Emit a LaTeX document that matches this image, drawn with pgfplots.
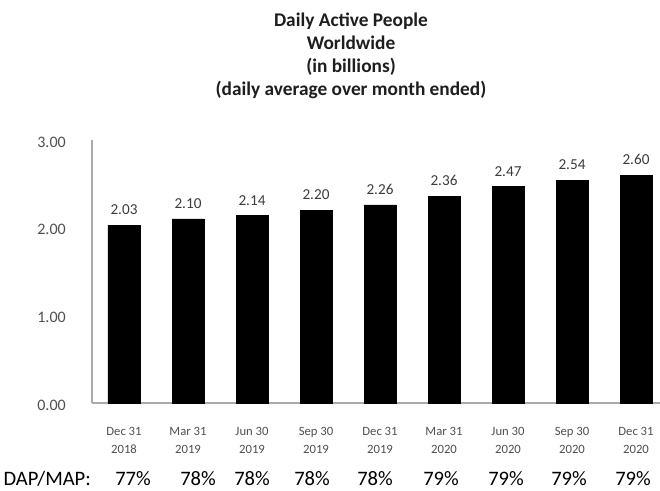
\documentclass[border=0pt]{standalone}
\usepackage{fontspec}
\setmainfont{Carlito}
\usepackage{pgfplots}
\pgfplotsset{compat=1.18}
\definecolor{axisgray}{RGB}{170,170,170}
\definecolor{labgray}{RGB}{80,80,80}
\definecolor{datgray}{RGB}{60,60,60}
\definecolor{titleblk}{RGB}{30,30,30}
\begin{document}
\begin{tikzpicture}
\useasboundingbox (0,0) rectangle (495pt,368.25pt);
\fill[white] (0,0) rectangle (495pt,368.25pt);
\begin{axis}[
  at={(69pt,66pt)}, anchor=south west,
  scale only axis, width=426pt, height=197.25pt,
  xmin=-0.5, xmax=8.375, ymin=0, ymax=3,
  clip=false,
  axis lines*=left,
  axis line style={draw=axisgray, line width=0.9pt},
  ybar, bar width=24pt,
  ytick={0,1,2,3},
  xtick={0,...,8},
  xticklabels={Dec 31\\2018, Mar 31\\2019, Jun 30\\2019, Sep 30\\2019, Dec 31\\2019, Mar 31\\2020, Jun 30\\2020, Sep 30\\2020, Dec 31\\2020},
  major tick length=0pt,
  /pgf/number format/.cd, fixed, fixed zerofill, precision=2, assume math mode=true,
  /pgfplots/.cd,
  xticklabel style={align=center, anchor=north, inner sep=0pt, yshift=-17.9pt, text=labgray, font=\fontsize{9.5}{13.5}\selectfont},
  yticklabel style={anchor=east, inner sep=0pt, xshift=-19.5pt, yshift=-1.5pt, text=labgray, font=\fontsize{12}{14}\selectfont},
  nodes near coords,
  every node near coord/.append style={anchor=south, inner sep=0pt, yshift=7.5pt, text=datgray, font=\fontsize{11.4}{13}\selectfont},
]
\addplot[fill=black, draw=black] coordinates {
  (0,2.03) (1,2.10) (2,2.14) (3,2.20) (4,2.26) (5,2.36) (6,2.47) (7,2.54) (8,2.60)
};
\end{axis}
\begin{scope}[font=\bfseries\fontsize{14.5}{17}\selectfont, text=titleblk]
\node[anchor=base] at (263.25pt,348pt) {Daily Active People};
\node[anchor=base] at (263.25pt,330.75pt) {Worldwide};
\node[anchor=base] at (263.25pt,313.5pt) {(in billions)};
\node[anchor=base] at (263.25pt,296.25pt) {(daily average over month ended)};
\end{scope}
\begin{scope}[font=\fontsize{15.4}{18}\selectfont]
\node[anchor=base west, inner sep=0pt] at (2.5pt,4pt) {DAP/MAP:};
\foreach \x/\p in {99.75/77, 148.5/78, 189/78, 234/78, 281.25/78, 330.75/79, 379.5/79, 426.75/79, 474.75/79}
  \node[anchor=base, inner sep=0pt] at (\x pt,4pt) {\p\%};
\end{scope}
\end{tikzpicture}
\end{document}
